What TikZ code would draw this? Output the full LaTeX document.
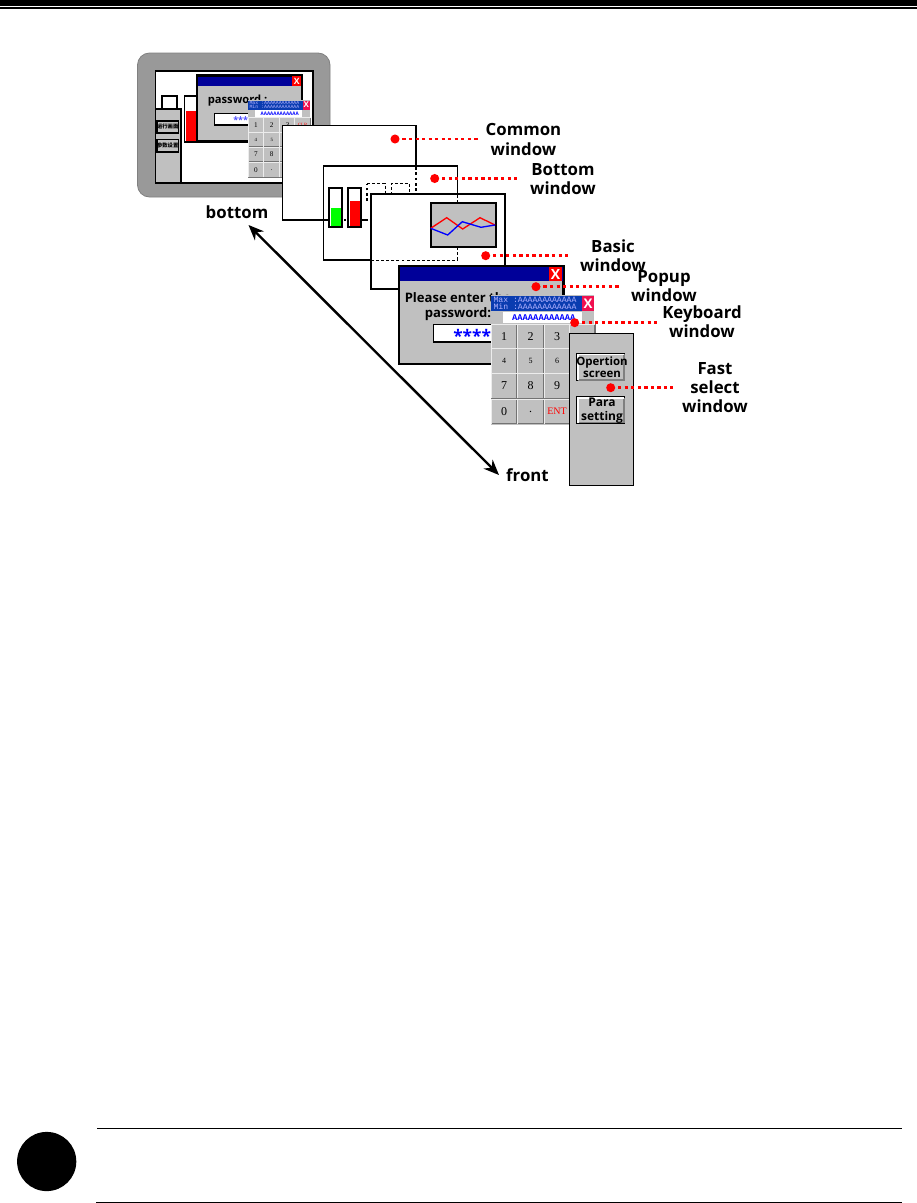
\documentclass[tikz,border=0pt]{standalone}
\usepackage{fontspec}
\setmainfont{Open Sans}
\newfontfamily\cjkfont{Noto Sans CJK SC}
\newfontfamily\pixelmono{Liberation Mono}
\newfontfamily\keyfont{Liberation Serif}
\usepackage{xcolor}
\usepackage{tikz}
\usetikzlibrary{arrows.meta}
\definecolor{panel}{HTML}{C0C0C0}
\definecolor{bezel}{HTML}{999999}
\definecolor{titleblue}{HTML}{000099}
\definecolor{kbblue}{HTML}{0A3CB0}
\definecolor{kbclose}{HTML}{F0104F}
\tikzset{
  win/.style={draw=black,fill=white,line width=1pt},
  calllabel/.style={inner sep=0,align=center,font=\fontsize{12.6}{14.3}\selectfont\bfseries},
  calldot/.style={circle,fill=red,inner sep=0,minimum size=6.8pt},
  leader/.style={red,line width=1.9pt,dash pattern=on 2.4pt off 2.5pt},
  hidden/.style={black,line width=.7pt,dash pattern=on 2.2pt off 1.6pt},
  thickdots/.style={black,line width=1.6pt,dash pattern=on 2pt off 2pt},
  keycap/.style={fill=panel,inner sep=0,minimum width=19.2pt,minimum height=18pt,font=\keyfont\fontsize{9}{9}\selectfont},
  softbtn/.style={draw=black,fill=panel,line width=1.3pt,inner sep=0,align=center},
  closebtn/.style={fill=red,inner sep=0,text=white,font=\bfseries},
  lightedge/.style={white,line width=1.3pt},
  darkedge/.style={gray,line width=1.3pt}
}
% keyboard window, local origin at its top left corner
\newcommand{\keypadwin}{
  \fill[panel] (0,0) rectangle (103,130);
  \fill[kbblue] (0,1) rectangle (91,16);
  \node[inner sep=0,text=white!70!blue,align=left,font=\pixelmono\fontsize{6.1}{5.4}\selectfont] (kbinfo) at (44,8.6) {Max :AAAAAAAAAAAA\\Min :AAAAAAAAAAAA};
  \node[closebtn,fill=kbclose,minimum width=9pt,minimum height=11.2pt,font=\fontsize{10}{10}\selectfont\bfseries] (kbclosex) at (97,8.5) {X};
  \fill[white] (12,16.7) rectangle (90.7,28);
  \node[inner sep=0,text=blue,font=\pixelmono\fontsize{6.6}{8}\selectfont\bfseries] (kbvalue) at (52.8,22.3) {AAAAAAAAAAAA};
  \foreach \kname/\kx/\ky/\ksize/\kcol/\klabel in {
    a/13/41.5/9/black/1,b/39.5/41.5/9/black/2,c/66/41.5/9/black/3,d/91/41.5/6/red/CLR,
    e/13/66/6/black/4,f/39.5/66/6/black/5,g/66/66/6/black/6,h/91/66/6/black/,
    i/13/91/9/black/7,j/39.5/91/9/black/8,k/66/91/9/black/9,l/91/91/6/black/,
    m/13/116.5/9/black/0,n/39.5/116.5/9/black/.,o/66/116.5/7.5/red/ENT,p/91/116.5/6/red/}{
    \node[keycap,text=\kcol] (key\kname) at (\kx,\ky) {\fontsize{\ksize}{\ksize}\selectfont\klabel};
    \draw[black!55,line width=.9pt] (key\kname.north east)--(key\kname.south east)--(key\kname.south west);
    \draw[white!85!gray,line width=.6pt] (key\kname.south west)--(key\kname.north west)--(key\kname.north east);
  }
}
\begin{document}
\begin{tikzpicture}[x=.75pt,y=-.75pt]
  \useasboundingbox (0,0) rectangle (917,1203);
  % page rules
  \fill[black] (0,0) rectangle (917,6);
  \fill[black] (0,7.4) rectangle (917,9);
  \node[circle,fill=black,inner sep=0,minimum size=44.4pt] (notemark) at (46.7,1161.5) {};
  \coordinate (ruletopa) at (97,1128.4);
  \coordinate (ruletopb) at (902,1128.4);
  \coordinate (rulebota) at (96,1202.2);
  \coordinate (rulebotb) at (902,1202.2);
  \draw[line width=.8pt] (ruletopa)--(ruletopb);
  \draw[line width=.8pt] (rulebota)--(rulebotb);

  % device
  \draw[fill=bezel,draw=gray,line width=.6pt,rounded corners=9pt] (137.5,53) rectangle (330,197);
  \draw[win,line width=1.4pt] (155.5,70.7) rectangle (312.7,182.7);
  \draw[win,line width=1.4pt] (161.7,96) rectangle (177,109.5);
  \draw[win,fill=panel,line width=1.4pt] (155.5,109.3) rectangle (180.7,182.7);
  \node[softbtn,minimum width=14.4pt,minimum height=9.2pt,font=\cjkfont\bfseries\fontsize{4}{4}\selectfont] (minibtna) at (167.7,127) {运行画面};
  \node[softbtn,minimum width=14.4pt,minimum height=9.2pt,font=\cjkfont\bfseries\fontsize{4}{4}\selectfont] (minibtnb) at (167.7,145.5) {参数设置};
  \draw[win,line width=1.4pt] (184.5,96) rectangle (199,142);
  \fill[red] (186,111) rectangle (197,140.5);
  \draw[win,fill=panel,line width=1.6pt] (197,75.5) rectangle (302,141.5);
  \fill[titleblue] (198,76.5) rectangle (301,86);
  \node[closebtn,minimum width=6.6pt,minimum height=7pt,font=\fontsize{6.5}{7}\selectfont\bfseries] (miniclose) at (296.7,81) {X};
  \node[inner sep=0,anchor=west,font=\fontsize{8.4}{9}\selectfont\bfseries] (minipass) at (207.5,100.5) {password :};
  \draw[win,line width=1.4pt] (214.5,113.5) rectangle (290,124.8);
  \node[inner sep=0,anchor=west,text=blue!70!white,font=\fontsize{6.8}{7}\selectfont\bfseries] (ministars) at (233,120) {*****};
  \begin{scope}[shift={(248,100)},scale=.6,transform shape]
    \keypadwin
  \end{scope}

  % common window
  \draw[win] (282.3,125.3) rectangle (416,220);
  \draw[black,line width=1.6pt] (416,125.3)--(416,166);

  % bottom window
  \draw[win] (323.3,165.7) rectangle (457.3,260);
  \draw[black,line width=1.8pt] (323.3,165.7)--(457.3,165.7);
  \draw[thickdots] (416,167)--(416,194);
  \draw[black,line width=.8pt,dash pattern=on 5pt off 1.5pt on 1.5pt off 1.5pt] (323,220)--(371,220);
  \draw[thickdots] (367,201)--(367,184);
  \draw[hidden] (367,183.3)--(385,183.3)--(385,195);
  \draw[hidden] (391.3,195)--(391.3,183.3)--(409,183.3)--(409,195);
  \draw[win,line width=1.3pt] (329.3,188.3) rectangle (342.3,227);
  \fill[green] (331,208) rectangle (341,226);
  \draw[win,line width=1.3pt] (348.3,188.3) rectangle (361.3,227);
  \fill[red] (350,201) rectangle (360,226);

  % basic window
  \draw[win,line width=1.6pt] (370.7,194.3) rectangle (505,289);
  \draw[hidden] (457.3,195)--(457.3,204);
  \draw[hidden] (457.3,247)--(457.3,260)--(371,260);
  \draw[draw=black,fill=panel,line width=1.7pt] (430.7,203.3) rectangle (495.7,247);
  \draw[red,line width=1pt] (430.7,228.3)--(446.7,217.7)--(462.7,229)--(480,217.7)--(495,225);
  \draw[blue,line width=1pt] (430.7,228.3)--(447.7,235)--(462.3,221.7)--(481,227.3)--(495,225);

  % popup window
  \draw[win,fill=panel,line width=1.8pt] (399,266) rectangle (563.3,364);
  \fill[titleblue] (399.7,267) rectangle (562.6,281);
  \node[closebtn,minimum width=9.8pt,minimum height=10.5pt,font=\fontsize{10.5}{11}\selectfont\bfseries] (popclose) at (555.5,274) {X};
  \node[inner sep=0,anchor=north,align=center,font=\fontsize{9.8}{11.2}\selectfont\bfseries] (poptext) at (458,292) {Please enter the\\password:};
  \draw[win,line width=1.4pt] (433.5,324.5) rectangle (530,342);
  \node[inner sep=0,anchor=west,text=blue,font=\fontsize{13}{13}\selectfont\bfseries] (popstars) at (453,336) {*****};

  % keyboard window
  \begin{scope}[shift={(491,295)}]
    \keypadwin
  \end{scope}

  % fast select window
  \draw[win,fill=panel,line width=.9pt] (569.5,333.3) rectangle (633.7,485.3);
  \node[softbtn,minimum width=35.4pt,minimum height=20pt,font=\fontsize{8.6}{9}\selectfont\bfseries] (btnoper) at (600.8,367.2) {};
  \draw[darkedge] ([shift={(-1.4,1.4)}]btnoper.north east)--([shift={(-1.4,-1.4)}]btnoper.south east)--([shift={(1.4,-1.4)}]btnoper.south west);
  \draw[lightedge] ([shift={(1.4,-1.4)}]btnoper.south west)--([shift={(1.4,1.4)}]btnoper.north west)--([shift={(-1.4,1.4)}]btnoper.north east);
  \node[inner sep=0,align=center,font=\fontsize{8.6}{9.4}\selectfont\bfseries] (txtoper) at (602,367) {Opertion\\screen};
  \node[softbtn,minimum width=35.4pt,minimum height=19.4pt] (btnpara) at (600.8,410.2) {};
  \draw[darkedge] ([shift={(-1.4,1.4)}]btnpara.north east)--([shift={(-1.4,-1.4)}]btnpara.south east)--([shift={(1.4,-1.4)}]btnpara.south west);
  \draw[lightedge] ([shift={(1.4,-1.4)}]btnpara.south west)--([shift={(1.4,1.4)}]btnpara.north west)--([shift={(-1.4,1.4)}]btnpara.north east);
  \node[inner sep=0,align=center,font=\fontsize{9}{10.6}\selectfont\bfseries] (txtpara) at (602,411) {Para\\setting};

  % labels and their leaders
  \node[calllabel] (lblcommon) at (523.5,139.5) {Common\\window};
  \node[calllabel] (lblbottom) at (563,179) {Bottom\\window};
  \node[calllabel] (lblbasic) at (613,256) {Basic\\window};
  \node[calllabel] (lblpopup) at (664,286) {Popup\\window};
  \node[calllabel] (lblkeyb) at (702,321.5) {Keyboard\\window};
  \node[calllabel] (lblfast) at (715,388) {Fast\\select\\window};
  \node[calldot] (dotcommon) at (395,139) {};
  \node[calldot] (dotbottom) at (434.7,178.5) {};
  \node[calldot] (dotbasic) at (485.7,255.7) {};
  \node[calldot] (dotpopup) at (536,286.7) {};
  \node[calldot] (dotkeyb) at (574.7,322.7) {};
  \node[calldot] (dotfast) at (610.7,387.7) {};
  \coordinate (endcommon) at (479,139);
  \coordinate (endbottom) at (520,178.5);
  \coordinate (endbasic) at (570,255.7);
  \coordinate (endpopup) at (620,286.7);
  \coordinate (endkeyb) at (659,322.7);
  \coordinate (endfast) at (673,387.7);
  \draw[leader,shorten <=2pt] (dotcommon)--(endcommon);
  \draw[leader,shorten <=2pt] (dotbottom)--(endbottom);
  \draw[leader,shorten <=2pt] (dotbasic)--(endbasic);
  \draw[leader,shorten <=2pt] (dotpopup)--(endpopup);
  \draw[leader,shorten <=2pt] (dotkeyb)--(endkeyb);
  \draw[leader,shorten <=2pt] (dotfast)--(endfast);

  % stacking direction
  \node[calllabel] (lbldown) at (237,212) {bottom};
  \node[calllabel] (lblup) at (527.5,475) {front};
  \coordinate (tipdown) at (248.5,225);
  \coordinate (tipup) at (499,475);
  \draw[{Stealth[length=11.5pt,width=9.5pt]}-{Stealth[length=11.5pt,width=9.5pt]},line width=1.8pt] (tipdown)--(tipup);
\end{tikzpicture}
\end{document}
